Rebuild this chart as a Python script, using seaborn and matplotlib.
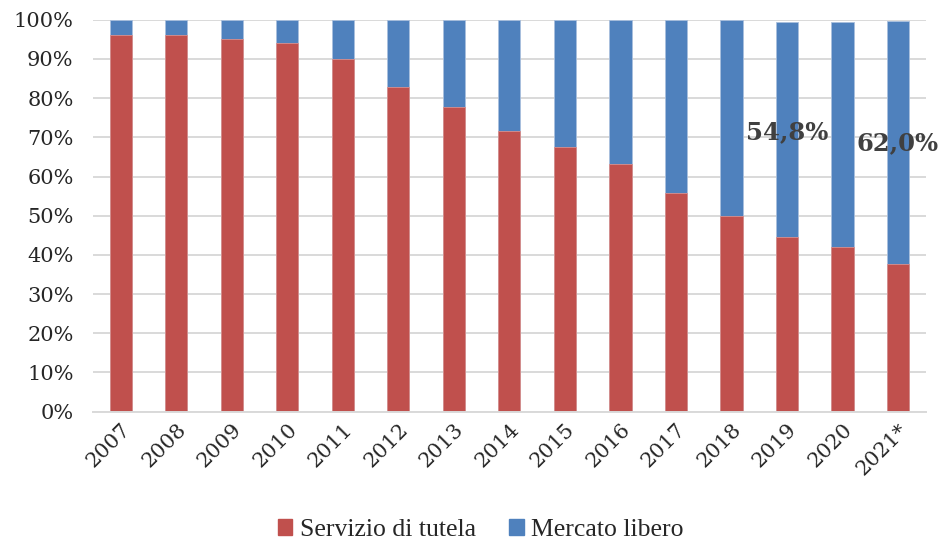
import pandas as pd
import numpy as np
import matplotlib
matplotlib.use('Agg')
import matplotlib.pyplot as plt
import matplotlib.patches as mpatches
import seaborn as sns

# Data (percent of customers)
years = ['2007', '2008', '2009', '2010', '2011', '2012', '2013', '2014',
         '2015', '2016', '2017', '2018', '2019', '2020', '2021*']
tutela = [96.0, 96.0, 95.0, 94.0, 90.0, 82.8, 77.7, 71.5,
          67.6, 63.2, 55.9, 50.0, 44.6, 42.0, 37.6]
libero = [4.0, 4.0, 5.0, 6.0, 10.0, 17.2, 22.3, 28.5,
          32.4, 36.8, 44.1, 50.0, 54.8, 57.5, 62.0]
labels = {'2019': '54,8%', '2021*': '62,0%'}
label_y = {'2019': 71.4, '2021*': 68.5}

red = '#C0504D'
blue = '#4F81BD'

df = pd.DataFrame({'anno': years, 'tutela': tutela, 'libero': libero})
df['totale'] = df['tutela'] + df['libero']

sns.set_style('white')
fig = plt.figure(figsize=(9.43, 5.40), dpi=100)
ax = fig.add_axes([0.0986, 0.2376, 0.8831, 0.7259])

# stacked bars: total in blue, tutela in red on top
sns.barplot(data=df, x='anno', y='totale', color=blue, saturation=1,
            width=0.4, edgecolor='#a9c0de', linewidth=0.6, ax=ax)
sns.barplot(data=df, x='anno', y='tutela', color=red, saturation=1,
            width=0.4, edgecolor='#d9908e', linewidth=0.6, ax=ax)

ax.set_ylim(0, 100)
ax.set_xlim(-0.5, len(years) - 0.5)
ax.set_yticks(range(0, 101, 10))
ax.set_yticklabels([f'{v}%' for v in range(0, 101, 10)],
                   fontsize=15, family='DejaVu Serif')
ax.set_xticks(range(len(years)))
ax.set_xticklabels(years, rotation=45, ha='right', rotation_mode='anchor',
                   fontsize=15, family='DejaVu Serif')
ax.tick_params(axis='y', length=0, pad=14)
ax.tick_params(axis='x', length=0, pad=6)
ax.set_xlabel('')
ax.set_ylabel('')

ax.grid(axis='y', color='#d9d9d9', linewidth=1.4)
ax.set_axisbelow(True)
for s in ['top', 'right', 'left']:
    ax.spines[s].set_visible(False)
ax.spines['bottom'].set_color('#d9d9d9')
ax.spines['bottom'].set_linewidth(1.4)

for yr, txt in labels.items():
    ax.text(years.index(yr), label_y[yr], txt, ha='center', va='center',
            fontsize=17.5, fontweight='bold', color='#404040',
            family='DejaVu Serif')

handles = [mpatches.Patch(color=red, label='Servizio di tutela'),
           mpatches.Patch(color=blue, label='Mercato libero')]
fig.legend(handles=handles, loc='lower center', bbox_to_anchor=(0.51, -0.045),
           ncol=2, frameon=False, handlelength=0.55, handleheight=0.55,
           handletextpad=0.3, columnspacing=1.3,
           prop={'family': 'Liberation Serif', 'size': 18.5})

fig.savefig('out.png', dpi=100)
